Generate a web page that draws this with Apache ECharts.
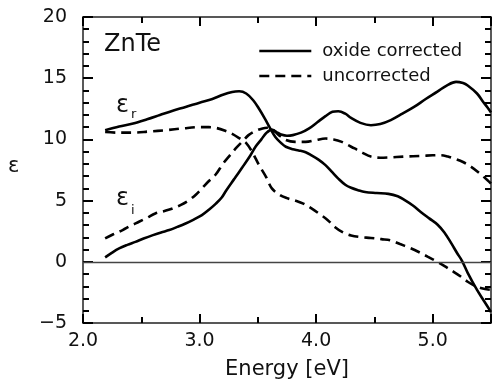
<!DOCTYPE html>
<html>
<head>
<meta charset="utf-8">
<script src="https://cdn.jsdelivr.net/npm/echarts@6/dist/echarts.min.js"></script>
<style>
  html, body { margin: 0; padding: 0; background: #fff; }
  #chart { width: 492px; height: 385px; }
</style>
</head>
<body>
<div id="chart"></div>
<script>
// Dielectric function of ZnTe: [photon energy (eV), epsilon]
const realCorrected = [
  [2.19,10.75],[2.31,11.05],[2.43,11.3],[2.55,11.65],[2.66,12.0],[2.77,12.35],[2.88,12.65],
  [3.0,13.0],[3.11,13.3],[3.2,13.65],[3.28,13.88],[3.34,13.93],[3.40,13.75],[3.46,13.2],
  [3.51,12.5],[3.56,11.7],[3.60,11.0],[3.65,10.2],[3.70,9.7],[3.74,9.4],[3.80,9.2],[3.85,9.1],
  [3.91,8.95],[3.96,8.7],[4.02,8.35],[4.08,7.9],[4.14,7.3],[4.19,6.8],[4.25,6.3],[4.30,6.05],
  [4.36,5.85],[4.42,5.7],[4.52,5.62],[4.62,5.55],[4.70,5.35],[4.76,5.04],[4.83,4.6],[4.90,4.05],
  [4.97,3.55],[5.04,3.05],[5.10,2.4],[5.16,1.5],[5.21,0.7],[5.25,0.1],[5.30,-0.9],[5.38,-2.3],
  [5.44,-3.2],[5.50,-4.1]
];
const imagCorrected = [
  [2.19,0.36],[2.25,0.75],[2.31,1.09],[2.38,1.38],[2.45,1.63],[2.52,1.9],[2.60,2.18],[2.67,2.4],
  [2.74,2.59],[2.81,2.85],[2.88,3.13],[2.95,3.45],[3.02,3.81],[3.08,4.25],[3.14,4.75],[3.19,5.25],
  [3.23,5.85],[3.30,6.8],[3.37,7.76],[3.43,8.6],[3.48,9.4],[3.53,10.0],[3.57,10.5],[3.62,10.8],
  [3.66,10.6],[3.70,10.4],[3.75,10.3],[3.80,10.35],[3.87,10.55],[3.94,10.9],[4.01,11.4],
  [4.08,11.9],[4.14,12.25],[4.19,12.3],[4.25,12.1],[4.30,11.75],[4.38,11.35],[4.47,11.16],
  [4.55,11.25],[4.64,11.57],[4.74,12.1],[4.84,12.65],[4.94,13.3],[5.04,13.9],[5.12,14.4],
  [5.20,14.7],[5.26,14.6],[5.30,14.4],[5.38,13.75],[5.43,13.1],[5.47,12.6],[5.50,12.2]
];
const realUncorrected = [
  [2.19,10.6],[2.3,10.55],[2.43,10.55],[2.57,10.65],[2.71,10.75],[2.86,10.9],[3.0,11.0],
  [3.08,11.0],[3.14,10.94],[3.22,10.7],[3.28,10.45],[3.34,10.1],[3.40,9.7],[3.45,9.0],
  [3.51,7.9],[3.57,6.94],[3.62,6.0],[3.69,5.45],[3.75,5.2],[3.82,5.0],[3.89,4.75],[3.96,4.36],
  [4.03,3.9],[4.10,3.4],[4.16,2.85],[4.23,2.4],[4.30,2.15],[4.38,2.02],[4.47,1.95],[4.56,1.85],
  [4.64,1.75],[4.72,1.45],[4.80,1.15],[4.88,0.8],[4.96,0.4],[5.04,0.0],[5.11,-0.4],
  [5.18,-0.82],[5.24,-1.2],[5.30,-1.63],[5.36,-1.95],[5.42,-2.17],[5.50,-2.3]
];
const imagUncorrected = [
  [2.19,1.91],[2.26,2.25],[2.34,2.59],[2.41,2.95],[2.48,3.27],[2.55,3.6],[2.62,3.95],[2.70,4.15],
  [2.77,4.36],[2.84,4.65],[2.91,5.04],[2.97,5.5],[3.02,6.0],[3.08,6.6],[3.14,7.15],[3.20,8.0],
  [3.26,8.7],[3.31,9.26],[3.37,9.85],[3.42,10.35],[3.48,10.7],[3.54,10.9],[3.58,10.95],
  [3.62,10.85],[3.68,10.35],[3.74,9.95],[3.82,9.8],[3.91,9.8],[4.0,9.95],[4.08,10.07],
  [4.15,10.0],[4.22,9.8],[4.27,9.55],[4.33,9.26],[4.40,8.9],[4.47,8.6],[4.55,8.5],[4.62,8.52],
  [4.76,8.6],[4.90,8.65],[5.0,8.7],[5.07,8.71],[5.13,8.6],[5.18,8.44],[5.26,8.15],[5.33,7.76],
  [5.40,7.25],[5.47,6.67],[5.50,6.4]
];

const seriesNames = ['oxide corrected', 'uncorrected'];
const xRange = [2, 5.5];
const yRange = [-5, 20];

const FONT = 'DejaVu Sans';
const INK = '#111';
const AXIS = '#222';

const chart = echarts.init(document.getElementById('chart'), null, { renderer: 'canvas' });

const fmtX = v => (Math.abs(v - Math.round(v)) < 1e-6 ? v.toFixed(1) : '');
const fmtY = v => (v < 0 ? '\u2212' + Math.abs(v) : String(v));

function frameX(position, labels) {
  return {
    type: 'value', position, min: xRange[0], max: xRange[1], interval: 1,
    axisLine: { show: true, onZero: false, lineStyle: { color: AXIS, width: 1.5 } },
    axisTick: { show: true, inside: true, length: 9, lineStyle: { color: '#000', width: 2 } },
    minorTick: { show: true, splitNumber: 2, length: 6, lineStyle: { color: '#000', width: 2 } },
    splitLine: { show: false },
    axisLabel: labels
      ? { show: true, formatter: fmtX, margin: 9, color: INK, fontFamily: FONT, fontSize: 19, showMaxLabel: false }
      : { show: false },
    name: labels ? 'Energy [eV]' : '',
    nameLocation: 'middle', nameGap: 36,
    nameTextStyle: { color: INK, fontFamily: FONT, fontSize: 21 }
  };
}
function frameY(position, labels) {
  return {
    type: 'value', position, min: yRange[0], max: yRange[1], interval: 5,
    axisLine: { show: true, onZero: false, lineStyle: { color: AXIS, width: 1.5 } },
    axisTick: { show: true, inside: true, length: 10, lineStyle: { color: '#000', width: 2 } },
    minorTick: { show: true, splitNumber: 5, length: 6, lineStyle: { color: '#000', width: 2 } },
    splitLine: { show: false },
    axisLabel: labels
      ? { show: true, formatter: fmtY, margin: 16, color: INK, fontFamily: FONT, fontSize: 19 }
      : { show: false }
  };
}

function curve(name, data, dashed, withZero) {
  const s = {
    name, type: 'line', data, smooth: 0.35, symbol: 'none', showSymbol: false,
    xAxisIndex: 0, yAxisIndex: 0,
    lineStyle: { color: '#000', width: 2.6, type: dashed ? [10, 6] : 'solid', cap: 'butt' },
    itemStyle: { color: '#000' },
    z: 3
  };
  if (withZero) {
    s.markLine = {
      silent: true, symbol: 'none', label: { show: false },
      lineStyle: { color: '#444', width: 1.3, type: 'solid' },
      data: [{ yAxis: 0 }]
    };
  }
  return s;
}

chart.setOption({
  animation: false,
  backgroundColor: '#fff',
  grid: { left: 83, right: 1, top: 17, bottom: 62 },
  xAxis: [frameX('bottom', true), frameX('top', false)],
  yAxis: [frameY('left', true), frameY('right', false)],
  legend: {
    orient: 'vertical', left: 253, top: 37, itemWidth: 52, itemHeight: 14, itemGap: 7,
    data: seriesNames,
    itemStyle: { opacity: 0 },
    lineStyle: { width: 2.6 },
    textStyle: { color: INK, fontFamily: FONT, fontSize: 18, padding: [0, 0, 0, 6] }
  },
  series: [
    curve(seriesNames[0], realCorrected, false, true),
    curve(seriesNames[0], imagCorrected, false, false),
    curve(seriesNames[1], realUncorrected, true, false),
    curve(seriesNames[1], imagUncorrected, true, false)
  ],
  graphic: [
    { type: 'text', left: 104, top: 33, style: { text: 'ZnTe', fill: INK, font: '24px "' + FONT + '"' } },
    { type: 'text', left: 8, top: 156, style: { text: '\u03b5', fill: INK, font: '21px "' + FONT + '"' } },
    { type: 'text', left: 116, top: 94, style: { text: '\u03b5', fill: INK, font: '24px "' + FONT + '"' } },
    { type: 'text', left: 131, top: 108, style: { text: 'r', fill: INK, font: '13px "' + FONT + '"' } },
    { type: 'text', left: 116, top: 187, style: { text: '\u03b5', fill: INK, font: '24px "' + FONT + '"' } },
    { type: 'text', left: 131, top: 204, style: { text: 'i', fill: INK, font: '13px "' + FONT + '"' } }
  ]
});
</script>
</body>
</html>
